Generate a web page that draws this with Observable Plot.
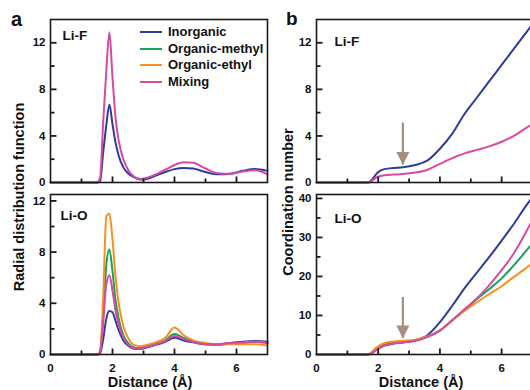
<!DOCTYPE html>
<html><head><meta charset="utf-8">
<script src="https://cdn.jsdelivr.net/npm/d3@7"></script>
<script src="https://cdn.jsdelivr.net/npm/@observablehq/plot@0.6"></script>
<style>
html,body{margin:0;padding:0;width:530px;height:390px;overflow:hidden;background:#fff}
#wrap{position:relative;width:530px;height:390px;overflow:hidden;font-family:"Liberation Sans",Arial,sans-serif;font-weight:bold;color:#111}
.abs{position:absolute;white-space:nowrap;line-height:1}
#wrap svg{position:absolute;overflow:visible}
</style></head><body><div id="wrap"></div>
<script>
// ---- series ----
const seriesNames = ["Inorganic", "Organic-methyl", "Organic-ethyl", "Mixing"];
const seriesColors = ["#2d3c9e", "#17a35b", "#f7901f", "#d84aa1"];

// ---- RDF (panel a) ----
const rdfDistance = [0, 1.5, 1.6, 1.7, 1.8, 1.9, 2.0, 2.1, 2.2, 2.35, 2.5, 2.7, 2.9, 3.1, 3.4, 3.7, 4.0, 4.3, 4.6, 5.0, 5.4, 5.8, 6.2, 6.6, 7.0];
const rdfLiF_Inorganic = [0, 0, 0.1, 2.6, 4.9, 6.7, 5.0, 3.4, 2.3, 1.3, 0.8, 0.45, 0.25, 0.3, 0.6, 0.9, 1.15, 1.25, 1.2, 0.9, 0.7, 0.75, 1.0, 1.15, 1.0];
const rdfLiF_Mixing    = [0, 0, 0.4, 5.2, 9.6, 12.9, 9.0, 5.5, 3.6, 2.0, 1.1, 0.5, 0.3, 0.4, 0.7, 1.1, 1.5, 1.75, 1.7, 1.2, 0.8, 0.75, 0.95, 1.05, 0.7];
const rdfLiO_Inorganic = [0, 0, 0.1, 1.2, 2.8, 3.4, 3.3, 2.6, 1.9, 1.1, 0.7, 0.45, 0.45, 0.55, 0.75, 1.0, 1.3, 1.1, 0.95, 0.8, 0.8, 0.9, 1.0, 1.05, 1.0];
const rdfLiO_Methyl    = [0, 0, 0.2, 3.0, 7.0, 8.2, 6.5, 4.2, 2.8, 1.5, 0.9, 0.55, 0.5, 0.6, 0.8, 1.1, 1.6, 1.3, 1.0, 0.8, 0.75, 0.85, 0.9, 1.0, 0.9];
const rdfLiO_Ethyl     = [0, 0, 0.3, 4.5, 10.8, 11.0, 9.0, 6.0, 4.0, 2.2, 1.3, 0.75, 0.65, 0.75, 0.95, 1.3, 2.1, 1.5, 1.1, 0.9, 0.8, 0.8, 0.8, 0.8, 0.7];
const rdfLiO_Mixing    = [0, 0, 0.2, 2.5, 5.5, 6.2, 5.0, 3.4, 2.3, 1.3, 0.8, 0.5, 0.5, 0.6, 0.8, 1.05, 1.45, 1.2, 1.0, 0.8, 0.8, 0.9, 0.95, 1.0, 0.9];

// ---- coordination number (panel b) ----
const cnDistance = [0, 1.6, 1.7, 1.8, 1.9, 2.0, 2.2, 2.5, 2.8, 3.2, 3.6, 4.0, 4.4, 4.8, 5.2, 5.6, 6.0, 6.4, 6.8, 7.0];
const cnLiF_Inorganic = [0, 0, 0.02, 0.25, 0.6, 0.9, 1.15, 1.25, 1.3, 1.5, 1.9, 2.9, 4.2, 5.9, 7.3, 8.7, 10.1, 11.5, 12.9, 13.6];
const cnLiF_Mixing    = [0, 0, 0, 0.15, 0.35, 0.5, 0.62, 0.68, 0.72, 0.85, 1.1, 1.6, 2.1, 2.5, 2.8, 3.1, 3.5, 4.0, 4.7, 5.0];
const cnLiO_Inorganic = [0, 0, 0.05, 0.4, 1.0, 1.5, 2.3, 2.8, 3.1, 3.6, 5.0, 8.3, 12.5, 17, 21, 25, 29.2, 33.5, 38.2, 40.3];
const cnLiO_Methyl    = [0, 0, 0.05, 0.5, 1.2, 1.8, 2.6, 3.0, 3.2, 3.6, 4.6, 6.1, 8.8, 11.5, 14.2, 16.8, 19.5, 22.9, 26.6, 28.5];
const cnLiO_Ethyl     = [0, 0, 0.1, 0.7, 1.5, 2.1, 2.9, 3.3, 3.5, 3.8, 4.7, 6.1, 8.7, 11.2, 13.4, 15.5, 17.5, 19.9, 22.2, 23.4];
const cnLiO_Mixing    = [0, 0, 0.05, 0.4, 1.0, 1.5, 2.3, 2.8, 3.1, 3.5, 4.5, 6.2, 8.8, 11.6, 14.4, 17.8, 21.6, 26.0, 31.5, 34.5];

// ---- arrows (panel b) ----
const arrowX = [2.8, 2.8];
const arrowTop = [5.1, 14.6];
const arrowTip = [1.5, 4.1];

// ---- ticks ----
const xMajor = [0, 2, 4, 6];
const xMinor = [1, 3, 5];
const rdfTopMajor = [0, 4, 8, 12], rdfTopMinor = [2, 6, 10];
const rdfBotMajor = [0, 4, 8, 12], rdfBotMinor = [2, 6, 10];
const cnTopMajor = [0, 4, 8, 12], cnTopMinor = [2, 6, 10];
const cnBotMajor = [0, 10, 20, 30, 40], cnBotMinor = [5, 15, 25, 35];

const wrap = document.getElementById("wrap");
const color = {domain: seriesNames, range: seriesColors};
const INK = "#1a1a1a";
const X_DOMAIN = [0, 7];

function rows(grid, list) {
  const out = [];
  for (const [name, vals] of list) vals.forEach((v, i) => out.push({x: grid[i], y: v, series: name}));
  return out;
}

function panel(o) {
  const pw = o.width - 50 - o.mr, ph = o.height - o.mt - o.mb;
  const y0 = o.yDomain[0], ySpan = o.yDomain[1] - o.yDomain[0], xSpan = X_DOMAIN[1] - X_DOMAIN[0];
  const yPx = px => y0 + ySpan * px / ph;   // tick length in data units
  const xPx = px => X_DOMAIN[0] + xSpan * px / pw;
  const marks = [
    Plot.line(rows(o.grid, o.series), {x: "x", y: "y", z: "series", stroke: "series", strokeWidth: 2, curve: "monotone-x"}),
    // inward ticks
    Plot.link(xMajor.filter(d => d > 0), {x1: d => d, x2: d => d, y1: () => y0, y2: () => yPx(6), stroke: INK, strokeWidth: 1.8}),
    Plot.link(xMinor, {x1: d => d, x2: d => d, y1: () => y0, y2: () => yPx(4), stroke: INK, strokeWidth: 1.8}),
    Plot.link(o.yMajor.filter(d => d > 0), {y1: d => d, y2: d => d, x1: () => X_DOMAIN[0], x2: () => xPx(6), stroke: INK, strokeWidth: 1.8}),
    Plot.link(o.yMinor, {y1: d => d, y2: d => d, x1: () => X_DOMAIN[0], x2: () => xPx(4), stroke: INK, strokeWidth: 1.8}),
    Plot.axisY(o.yMajor, {anchor: "left", tickSize: 0, tickPadding: 5, label: null, fontSize: 11.5}),
    Plot.frame({stroke: INK, strokeWidth: 1.6}),
    Plot.text([o.title], {frameAnchor: "top-left", dx: o.tdx, dy: o.tdy, lineAnchor: "top", fontSize: 13.5, fontWeight: "bold", fill: "#111"})
  ];
  if (o.xLabels) marks.push(Plot.axisX(xMajor, {anchor: "bottom", tickSize: 0, tickPadding: 9, label: null, fontSize: 11.5}));
  if (o.arrow !== undefined) {
    const i = o.arrow;
    marks.push(Plot.ruleX([arrowX[i]], {x: d => d, y1: arrowTop[i], y2: arrowTip[i], stroke: "#a48f80", strokeWidth: 2.2}));
    marks.push(Plot.vector([arrowX[i]], {x: d => d, y: arrowTip[i], length: 13, r: 6.5, rotate: 180, shape: "spike", anchor: "end", fill: "#a48f80", stroke: "none"}));
  }
  const svg = Plot.plot({
    width: o.width, height: o.height,
    marginLeft: 50, marginRight: o.mr, marginTop: o.mt, marginBottom: o.mb,
    x: {domain: X_DOMAIN, axis: null},
    y: {domain: o.yDomain, axis: null},
    color,
    style: {fontFamily: "'Liberation Sans', Arial, sans-serif", fontWeight: "bold", fontSize: "11.5px", color: "#111", background: "transparent"},
    marks
  });
  svg.style.left = o.left + "px";
  svg.style.top = o.top + "px";
  wrap.appendChild(svg);
}

panel({left: 0, top: 0, width: 280, height: 190, mr: 13, mt: 19, mb: 8, yDomain: [0, 14], yMajor: rdfTopMajor, yMinor: rdfTopMinor,
  grid: rdfDistance, series: [["Inorganic", rdfLiF_Inorganic], ["Mixing", rdfLiF_Mixing]], xLabels: false, title: "Li-F", tdx: 12, tdy: 11});
panel({left: 0, top: 186, width: 280, height: 204, mr: 13, mt: 8, mb: 36, yDomain: [0, 12.5], yMajor: rdfBotMajor, yMinor: rdfBotMinor,
  grid: rdfDistance, series: [["Inorganic", rdfLiO_Inorganic], ["Organic-methyl", rdfLiO_Methyl], ["Organic-ethyl", rdfLiO_Ethyl], ["Mixing", rdfLiO_Mixing]], xLabels: true, title: "Li-O", tdx: 10, tdy: 16});
panel({left: 266, top: 0, width: 290, height: 190, mr: 24, mt: 19, mb: 8, yDomain: [0, 14], yMajor: cnTopMajor, yMinor: cnTopMinor,
  grid: cnDistance, series: [["Inorganic", cnLiF_Inorganic], ["Mixing", cnLiF_Mixing]], xLabels: false, title: "Li-F", tdx: 18, tdy: 17, arrow: 0});
panel({left: 266, top: 186, width: 290, height: 204, mr: 24, mt: 8, mb: 36, yDomain: [0, 41], yMajor: cnBotMajor, yMinor: cnBotMinor,
  grid: cnDistance, series: [["Inorganic", cnLiO_Inorganic], ["Organic-methyl", cnLiO_Methyl], ["Organic-ethyl", cnLiO_Ethyl], ["Mixing", cnLiO_Mixing]], xLabels: true, title: "Li-O", tdx: 18, tdy: 19, arrow: 1});

function addText(txt, css) {
  const d = document.createElement("div");
  d.className = "abs";
  d.textContent = txt;
  Object.assign(d.style, css);
  wrap.appendChild(d);
  return d;
}
addText("a", {left: "11px", top: "9px", fontSize: "20px"});
addText("b", {left: "286px", top: "9px", fontSize: "19px"});
addText("Radial distribution function", {left: "19px", top: "197px", fontSize: "14.5px", transform: "translate(-50%,-50%) rotate(-90deg)"});
addText("Coordination number", {left: "288px", top: "202px", fontSize: "14.5px", transform: "translate(-50%,-50%) rotate(-90deg)"});
addText("Distance (Å)", {left: "150px", top: "375px", fontSize: "14.5px", transform: "translateX(-50%)"});
addText("Distance (Å)", {left: "421px", top: "375px", fontSize: "14.5px", transform: "translateX(-50%)"});

// legend
const legendY = [32, 49, 65, 82];
seriesNames.forEach((name, i) => {
  const sw = document.createElement("div");
  sw.className = "abs";
  Object.assign(sw.style, {left: "140px", top: (legendY[i] - 1) + "px", width: "22px", height: "2.2px", background: seriesColors[i]});
  wrap.appendChild(sw);
  addText(name, {left: "168px", top: (legendY[i] - 7) + "px", fontSize: "13px"});
});
</script>
</body></html>
